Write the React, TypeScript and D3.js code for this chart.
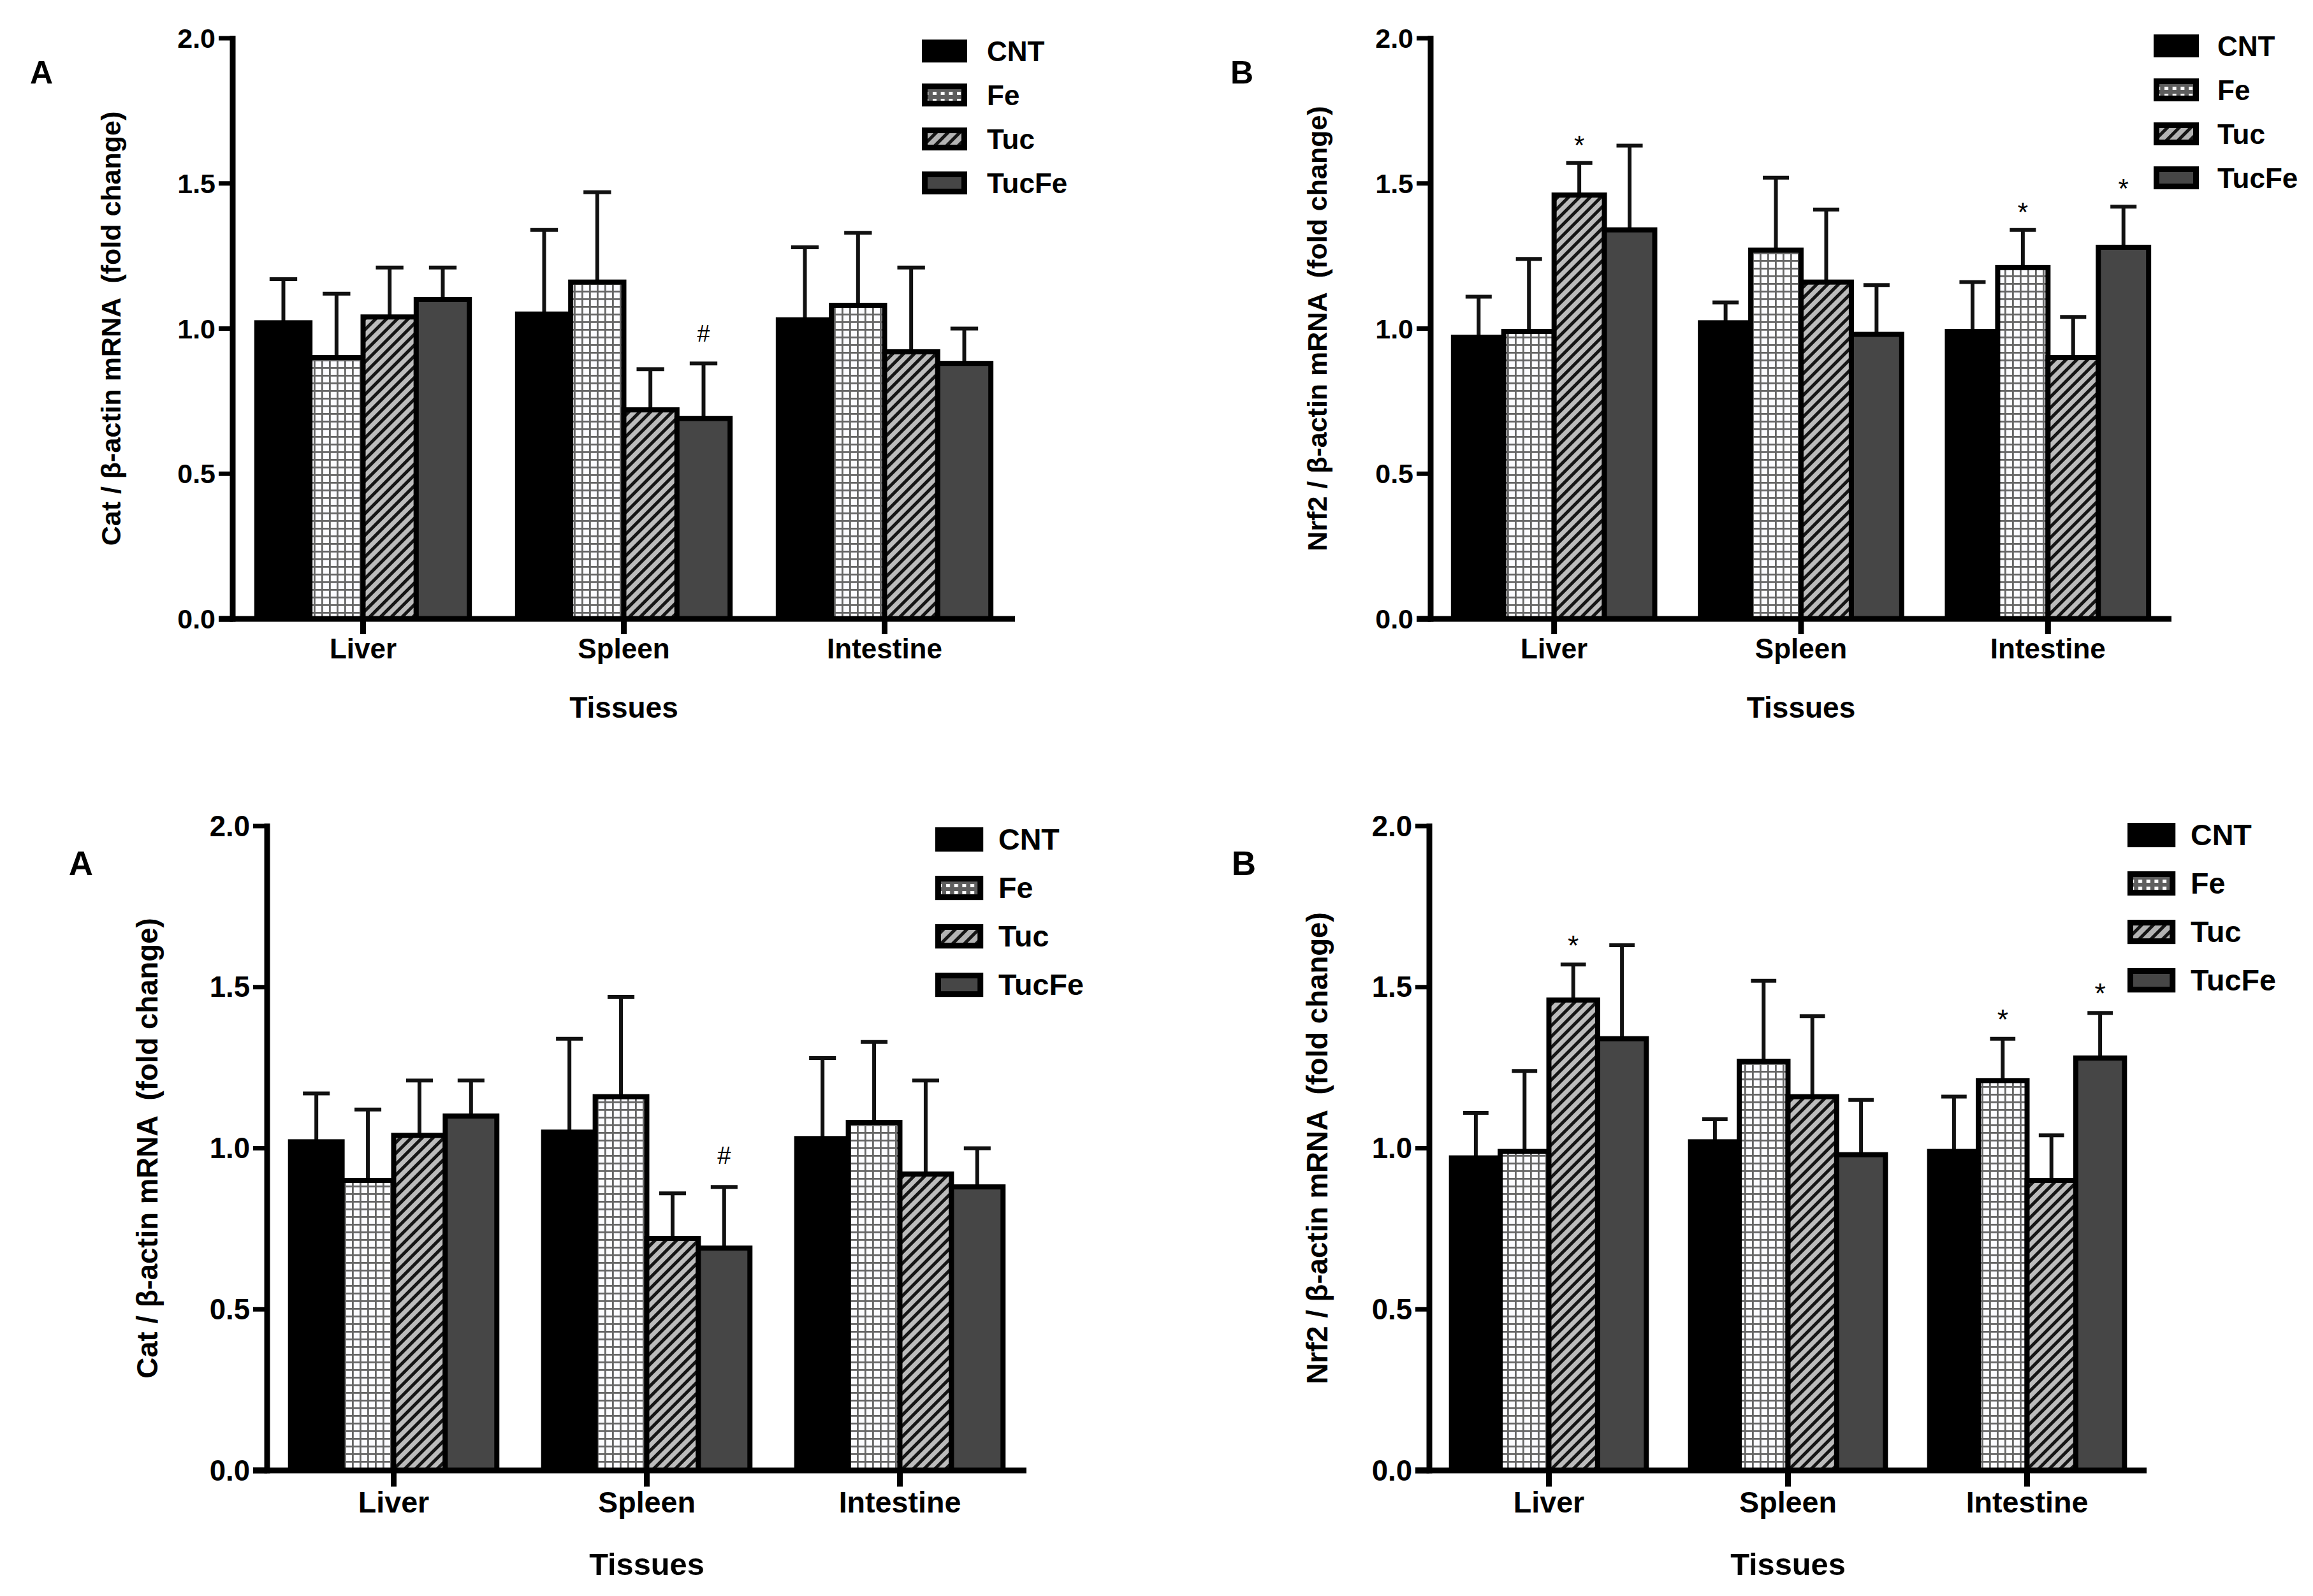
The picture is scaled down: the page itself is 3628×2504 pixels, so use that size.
import React from 'react';
import * as d3 from 'd3';

const tissues = ['Liver', 'Spleen', 'Intestine'];
const groups = ['CNT', 'Fe', 'Tuc', 'TucFe'];
const yTicks = [0, 0.5, 1.0, 1.5, 2.0];

// rows: Liver, Spleen, Intestine / columns: CNT, Fe, Tuc, TucFe
const catMeans = [
  [1.02, 0.9, 1.04, 1.1],
  [1.05, 1.16, 0.72, 0.69],
  [1.03, 1.08, 0.92, 0.88],
];
const catUpper = [
  [1.17, 1.12, 1.21, 1.21],
  [1.34, 1.47, 0.86, 0.88],
  [1.28, 1.33, 1.21, 1.0],
];
const nrf2Means = [
  [0.97, 0.99, 1.46, 1.34],
  [1.02, 1.27, 1.16, 0.98],
  [0.99, 1.21, 0.9, 1.28],
];
const nrf2Upper = [
  [1.11, 1.24, 1.57, 1.63],
  [1.09, 1.52, 1.41, 1.15],
  [1.16, 1.34, 1.04, 1.42],
];

const catMarks = [{ tissue: 'Spleen', group: 'TucFe', symbol: '#' }];
const nrf2Marks = [
  { tissue: 'Liver', group: 'Tuc', symbol: '*' },
  { tissue: 'Intestine', group: 'Fe', symbol: '*' },
  { tissue: 'Intestine', group: 'TucFe', symbol: '*' },
];

const FONT = '"Liberation Sans", Arial, sans-serif';

interface Layout {
  left: number;
  right: number;
  top: number;
  bottom: number;
  letterX: number;
  letterY: number;
  yLabelX: number;
  legendX: number;
  legendY: number;
  legendStep: number;
  legendTextX: number;
  k: number;
}

interface Mark {
  tissue: string;
  group: string;
  symbol: string;
}

interface PanelProps {
  id: string;
  letter: string;
  yLabel: string;
  means: number[][];
  upper: number[][];
  marks: Mark[];
  L: Layout;
}

const barFill = (g: string) =>
  g === 'CNT' ? '#000' : g === 'Fe' ? 'url(#feGrid)' : g === 'Tuc' ? 'url(#tucHatch)' : '#464646';

const Panel: React.FC<PanelProps> = ({ id, letter, yLabel, means, upper, marks, L }) => {
  const x = d3
    .scaleBand<string>()
    .domain(tissues)
    .range([L.left, L.right])
    .paddingInner(0.185)
    .paddingOuter(0.0925);
  const inner = d3.scaleBand<string>().domain(groups).range([0, x.bandwidth()]);
  const y = d3.scaleLinear().domain([0, 2]).range([L.bottom, L.top]);
  const bw = inner.bandwidth();
  const capW = bw * 0.52;
  const k = L.k;

  const cx = (t: string, g: string) => (x(t) as number) + (inner(g) as number) + bw / 2;

  const swW = 71 * k;
  const swH = 36 * k;
  const legendFill = (g: string, i: number) =>
    g === 'CNT' ? '#000' : g === 'Fe' ? `url(#feLeg-${id}-${i})` : g === 'Tuc' ? `url(#tucLeg-${id}-${i})` : '#464646';

  return (
    <g>
      <defs>
        {groups.map((g, i) => {
          const sy = L.legendY + i * L.legendStep;
          if (g === 'Fe')
            return (
              <pattern key={g} id={`feLeg-${id}-${i}`} patternUnits="userSpaceOnUse" x={L.legendX + 14} y={sy + 10} width={12.7} height={11}>
                <rect width={12.7} height={11} fill="#5e5e5e" />
                <rect x={3} y={3} width={6} height={5} fill="#fff" />
              </pattern>
            );
          if (g === 'Tuc')
            return (
              <pattern key={g} id={`tucLeg-${id}-${i}`} patternUnits="userSpaceOnUse" x={L.legendX} y={sy} width={13} height={13} patternTransform="rotate(45)">
                <rect width={13} height={13} fill="#151515" />
                <rect x={2} width={8} height={13} fill="#b3b3b3" />
              </pattern>
            );
          return null;
        })}
      </defs>

      {/* panel letter */}
      <text x={L.letterX} y={L.letterY} fontFamily={FONT} fontWeight="bold" fontSize={50 * k} textAnchor="middle">
        {letter}
      </text>

      {/* y label */}
      <text
        transform={`translate(${L.yLabelX},${(L.top + L.bottom) / 2}) rotate(-90)`}
        fontFamily={FONT}
        fontWeight="bold"
        fontSize={43 * k}
        textAnchor="middle"
        dominantBaseline="central"
        xmlSpace="preserve"
      >
        {yLabel}
      </text>

      {/* bars */}
      {tissues.map((t, ti) =>
        groups.map((g, gi) => {
          const v = means[ti][gi];
          const u = upper[ti][gi];
          const c = cx(t, g);
          return (
            <g key={`${t}-${g}`}>
              <line x1={c} x2={c} y1={y(v)} y2={y(u)} stroke="#111" strokeWidth={6} />
              <line x1={c - capW / 2} x2={c + capW / 2} y1={y(u)} y2={y(u)} stroke="#111" strokeWidth={6} />
              <rect
                x={(x(t) as number) + (inner(g) as number)}
                y={y(v)}
                width={bw}
                height={y(0) - y(v)}
                fill={barFill(g)}
                stroke="#000"
                strokeWidth={8}
              />
            </g>
          );
        })
      )}

      {/* significance marks */}
      {marks.map((m, i) => {
        const ti = tissues.indexOf(m.tissue);
        const gi = groups.indexOf(m.group);
        const u = upper[ti][gi];
        const star = m.symbol === '*';
        return (
          <text
            key={i}
            x={cx(m.tissue, m.group)}
            y={y(u) - (star ? 14 : 34) * k}
            fontFamily={FONT}
            fontSize={(star ? 42 : 36) * k}
            textAnchor="middle"
          >
            {m.symbol}
          </text>
        );
      })}

      {/* axes */}
      <line x1={L.left} x2={L.left} y1={L.top - 4} y2={L.bottom + 4.5} stroke="#000" strokeWidth={9} />
      <line x1={L.left - 22} x2={L.right} y1={L.bottom} y2={L.bottom} stroke="#000" strokeWidth={9} />
      {yTicks.map((t) => (
        <g key={t}>
          <line x1={L.left - 22} x2={L.left} y1={y(t)} y2={y(t)} stroke="#000" strokeWidth={t === 0 ? 9 : 7} />
          <text
            x={L.left - 27}
            y={y(t)}
            fontFamily={FONT}
            fontWeight="bold"
            fontSize={43 * k}
            textAnchor="end"
            dominantBaseline="central"
          >
            {t.toFixed(1)}
          </text>
        </g>
      ))}
      {tissues.map((t) => {
        const c = (x(t) as number) + x.bandwidth() / 2;
        return (
          <g key={t}>
            <line x1={c} x2={c} y1={L.bottom} y2={L.bottom + 24 * k} stroke="#000" strokeWidth={9} />
            <text x={c} y={L.bottom + 62 * k} fontFamily={FONT} fontWeight="bold" fontSize={44 * k} textAnchor="middle">
              {t}
            </text>
          </g>
        );
      })}
      <text
        x={(L.left + L.right) / 2}
        y={L.bottom + 155 * k}
        fontFamily={FONT}
        fontWeight="bold"
        fontSize={46 * k}
        textAnchor="middle"
      >
        Tissues
      </text>

      {/* legend */}
      {groups.map((g, i) => {
        const sy = L.legendY + i * L.legendStep;
        return (
          <g key={g}>
            <rect x={L.legendX + 4.5} y={sy + 4.5} width={swW - 9} height={swH - 9} fill={legendFill(g, i)} stroke="#000" strokeWidth={9} />
            <text
              x={L.legendTextX}
              y={sy + swH / 2}
              fontFamily={FONT}
              fontWeight="bold"
              fontSize={44 * k}
              dominantBaseline="central"
            >
              {g}
            </text>
          </g>
        );
      })}
    </g>
  );
};

const layouts: Record<string, Layout> = {
  tl: { left: 365, right: 1592, top: 60, bottom: 971, letterX: 65, letterY: 131, yLabelX: 174, legendX: 1446, legendY: 62, legendStep: 69, legendTextX: 1548, k: 1 },
  tr: { left: 2244, right: 3406, top: 60, bottom: 971, letterX: 1948, letterY: 131, yLabelX: 2066, legendX: 3378, legendY: 54, legendStep: 69, legendTextX: 3478, k: 1 },
  bl: { left: 419, right: 1610, top: 1296, bottom: 2307, letterX: 127, letterY: 1373, yLabelX: 231, legendX: 1467, legendY: 1298, legendStep: 76, legendTextX: 1566, k: 1.06 },
  br: { left: 2242, right: 3367, top: 1296, bottom: 2307, letterX: 1951, letterY: 1373, yLabelX: 2066, legendX: 3337, legendY: 1291, legendStep: 76, legendTextX: 3436, k: 1.06 },
};

const App: React.FC = () => {
  const catLabel = 'Cat / \u03b2-actin mRNA  (fold change)';
  const nrfLabel = 'Nrf2 / \u03b2-actin mRNA  (fold change)';
  return (
    <svg
      width={3628}
      height={2504}
      viewBox="0 0 3628 2504"
      style={{ position: 'absolute', left: 0, top: 0, background: '#fff' }}
    >
      <defs>
        <pattern id="feGrid" patternUnits="userSpaceOnUse" width={12} height={12}>
          <rect width={12} height={12} fill="#fcfcff" />
          <rect x={0} y={0} width={2.8} height={12} fill="#666" />
          <rect x={0} y={0} width={12} height={2.8} fill="#666" />
        </pattern>
        <pattern id="tucHatch" patternUnits="userSpaceOnUse" width={12} height={12} patternTransform="rotate(45)">
          <rect width={12} height={12} fill="#bcbcbc" />
          <rect x={0} y={0} width={5} height={12} fill="#151515" />
        </pattern>
      </defs>
      <rect width={3628} height={2504} fill="#fff" />
      <Panel id="tl" letter="A" yLabel={catLabel} means={catMeans} upper={catUpper} marks={catMarks} L={layouts.tl} />
      <Panel id="tr" letter="B" yLabel={nrfLabel} means={nrf2Means} upper={nrf2Upper} marks={nrf2Marks} L={layouts.tr} />
      <Panel id="bl" letter="A" yLabel={catLabel} means={catMeans} upper={catUpper} marks={catMarks} L={layouts.bl} />
      <Panel id="br" letter="B" yLabel={nrfLabel} means={nrf2Means} upper={nrf2Upper} marks={nrf2Marks} L={layouts.br} />
    </svg>
  );
};

export default App;
